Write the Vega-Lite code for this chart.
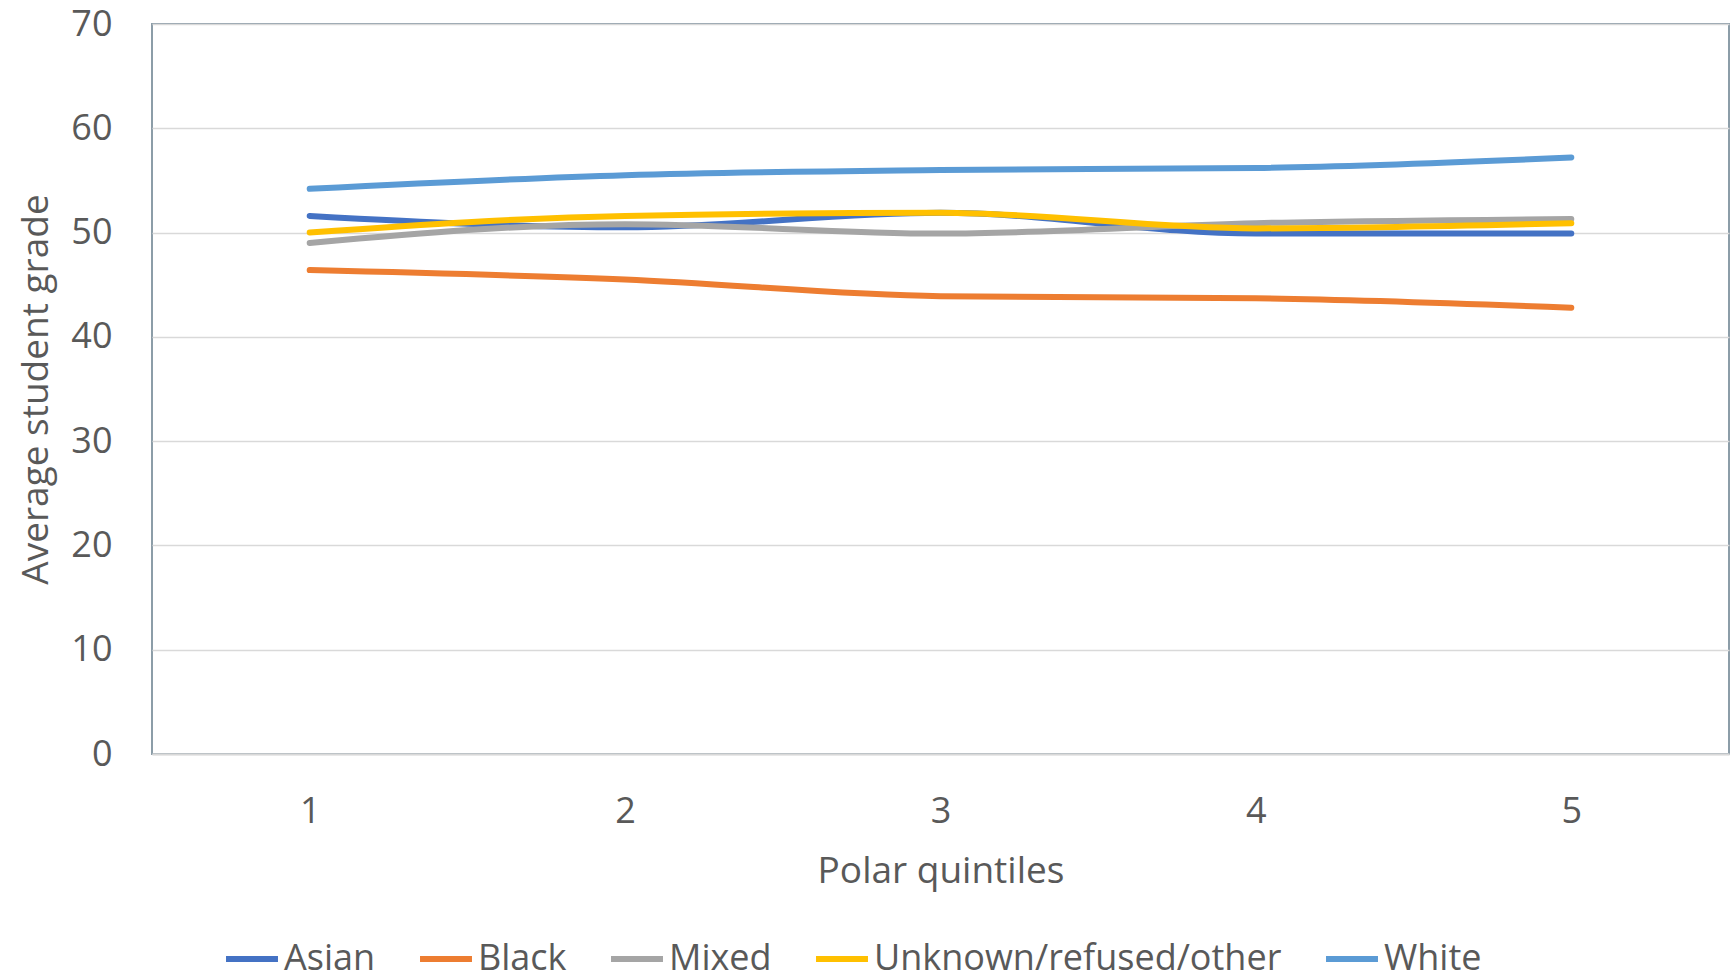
{
  "$schema": "https://vega.github.io/schema/vega-lite/v6.json",
  "autosize": {"type": "none"},
  "width": 1577,
  "height": 730,
  "padding": {"left": 152, "top": 24, "right": 2, "bottom": 225},
  "background": "white",
  "config": {
    "font": "Open Sans",
    "view": {"stroke": "#8C9DA8", "strokeWidth": 2},
    "axis": {
      "labelFont": "Open Sans",
      "titleFont": "Open Sans",
      "labelColor": "#595959",
      "titleColor": "#595959",
      "labelFontSize": 36,
      "titleFontSize": 37,
      "titleFontWeight": "normal",
      "ticks": false
    },
    "legend": {
      "labelFont": "Open Sans",
      "labelFontSize": 36,
      "labelColor": "#595959",
      "labelLimit": 600
    }
  },
  "data": {
    "values": [
      {"quintile": "1", "group": "Asian", "grade": 51.6},
      {"quintile": "2", "group": "Asian", "grade": 50.5},
      {"quintile": "3", "group": "Asian", "grade": 51.9},
      {"quintile": "4", "group": "Asian", "grade": 49.9},
      {"quintile": "5", "group": "Asian", "grade": 49.9},
      {"quintile": "1", "group": "Black", "grade": 46.4},
      {"quintile": "2", "group": "Black", "grade": 45.5},
      {"quintile": "3", "group": "Black", "grade": 43.9},
      {"quintile": "4", "group": "Black", "grade": 43.7},
      {"quintile": "5", "group": "Black", "grade": 42.8},
      {"quintile": "1", "group": "Mixed", "grade": 49.0},
      {"quintile": "2", "group": "Mixed", "grade": 50.8},
      {"quintile": "3", "group": "Mixed", "grade": 49.9},
      {"quintile": "4", "group": "Mixed", "grade": 50.9},
      {"quintile": "5", "group": "Mixed", "grade": 51.3},
      {"quintile": "1", "group": "Unknown/refused/other", "grade": 50.0},
      {"quintile": "2", "group": "Unknown/refused/other", "grade": 51.6},
      {"quintile": "3", "group": "Unknown/refused/other", "grade": 51.9},
      {"quintile": "4", "group": "Unknown/refused/other", "grade": 50.4},
      {"quintile": "5", "group": "Unknown/refused/other", "grade": 50.9},
      {"quintile": "1", "group": "White", "grade": 54.2},
      {"quintile": "2", "group": "White", "grade": 55.5},
      {"quintile": "3", "group": "White", "grade": 56.0},
      {"quintile": "4", "group": "White", "grade": 56.2},
      {"quintile": "5", "group": "White", "grade": 57.2}
    ]
  },
  "mark": {"type": "line", "strokeWidth": 6, "interpolate": "monotone", "strokeCap": "round"},
  "encoding": {
    "x": {
      "field": "quintile",
      "type": "ordinal",
      "scale": {"type": "point", "padding": 0.5},
      "axis": {
        "title": "Polar quintiles",
        "labelAngle": 0,
        "labelPadding": 40,
        "titlePadding": 24,
        "domain": true,
        "domainColor": "#D9D9D9",
        "domainWidth": 2,
        "grid": false
      }
    },
    "y": {
      "field": "grade",
      "type": "quantitative",
      "scale": {"domain": [0, 70]},
      "axis": {
        "title": "Average student grade",
        "values": [0, 10, 20, 30, 40, 50, 60, 70],
        "labelPadding": 40,
        "titlePadding": 15,
        "domain": false,
        "grid": true,
        "gridColor": "#D9D9D9",
        "gridWidth": 1.5
      }
    },
    "color": {
      "field": "group",
      "type": "nominal",
      "scale": {
        "domain": ["Asian", "Black", "Mixed", "Unknown/refused/other", "White"],
        "range": ["#4472C4", "#ED7D31", "#A5A5A5", "#FFC000", "#5B9BD5"]
      },
      "legend": {
        "title": null,
        "orient": "none",
        "direction": "horizontal",
        "legendX": 71,
        "legendY": 906,
        "symbolType": "stroke",
        "symbolSize": 2700,
        "symbolStrokeWidth": 6,
        "labelOffset": 3,
        "columnPadding": 32
      }
    }
  }
}
